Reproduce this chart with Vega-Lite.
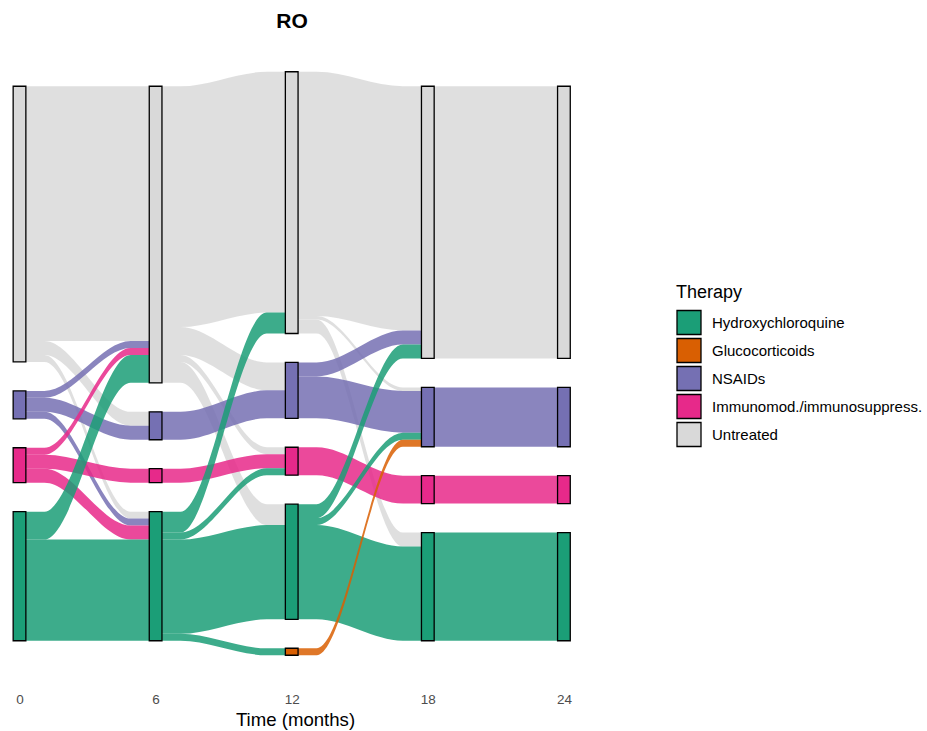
{
  "$schema": "https://vega.github.io/schema/vega-lite/v6.json",
  "width": 590,
  "height": 640,
  "autosize": {"type": "none"},
  "padding": {"left": 0, "top": 43.5, "right": 337, "bottom": 47.5},
  "background": "white",
  "config": {"font": "Liberation Sans", "view": {"stroke": null}},
  "title": {"text": "RO", "fontSize": 21, "fontWeight": "bold", "anchor": "middle", "frame": "group", "baseline": "alphabetic", "offset": 16, "dx": -3, "dy": 21, "color": "black"},
  "data": {
    "values": [
      {"t": 0, "from": "Untreated", "to": "Untreated", "n": 73},
      {"t": 0, "from": "Untreated", "to": "NSAIDs", "n": 4},
      {"t": 0, "from": "Untreated", "to": "Hydroxychloroquine", "n": 2},
      {"t": 0, "from": "NSAIDs", "to": "Untreated", "n": 2},
      {"t": 0, "from": "NSAIDs", "to": "NSAIDs", "n": 4},
      {"t": 0, "from": "NSAIDs", "to": "Hydroxychloroquine", "n": 2},
      {"t": 0, "from": "Immunomod./immunosuppress.", "to": "Untreated", "n": 2},
      {"t": 0, "from": "Immunomod./immunosuppress.", "to": "Immunomod./immunosuppress.", "n": 4},
      {"t": 0, "from": "Immunomod./immunosuppress.", "to": "Hydroxychloroquine", "n": 4},
      {"t": 0, "from": "Hydroxychloroquine", "to": "Untreated", "n": 8},
      {"t": 0, "from": "Hydroxychloroquine", "to": "Hydroxychloroquine", "n": 29},
      {"t": 6, "from": "Untreated", "to": "Untreated", "n": 69},
      {"t": 6, "from": "Untreated", "to": "NSAIDs", "n": 8},
      {"t": 6, "from": "Untreated", "to": "Immunomod./immunosuppress.", "n": 2},
      {"t": 6, "from": "Untreated", "to": "Hydroxychloroquine", "n": 6},
      {"t": 6, "from": "NSAIDs", "to": "NSAIDs", "n": 8},
      {"t": 6, "from": "Immunomod./immunosuppress.", "to": "Immunomod./immunosuppress.", "n": 4},
      {"t": 6, "from": "Hydroxychloroquine", "to": "Untreated", "n": 6},
      {"t": 6, "from": "Hydroxychloroquine", "to": "Immunomod./immunosuppress.", "n": 2},
      {"t": 6, "from": "Hydroxychloroquine", "to": "Hydroxychloroquine", "n": 27},
      {"t": 6, "from": "Hydroxychloroquine", "to": "Glucocorticoids", "n": 2},
      {"t": 12, "from": "Untreated", "to": "Untreated", "n": 70},
      {"t": 12, "from": "Untreated", "to": "NSAIDs", "n": 1},
      {"t": 12, "from": "Untreated", "to": "Hydroxychloroquine", "n": 4},
      {"t": 12, "from": "NSAIDs", "to": "Untreated", "n": 4},
      {"t": 12, "from": "NSAIDs", "to": "NSAIDs", "n": 12},
      {"t": 12, "from": "Immunomod./immunosuppress.", "to": "Immunomod./immunosuppress.", "n": 8},
      {"t": 12, "from": "Hydroxychloroquine", "to": "Untreated", "n": 4},
      {"t": 12, "from": "Hydroxychloroquine", "to": "NSAIDs", "n": 2},
      {"t": 12, "from": "Hydroxychloroquine", "to": "Hydroxychloroquine", "n": 27},
      {"t": 12, "from": "Glucocorticoids", "to": "NSAIDs", "n": 2},
      {"t": 18, "from": "Untreated", "to": "Untreated", "n": 78},
      {"t": 18, "from": "NSAIDs", "to": "NSAIDs", "n": 17},
      {"t": 18, "from": "Immunomod./immunosuppress.", "to": "Immunomod./immunosuppress.", "n": 8},
      {"t": 18, "from": "Hydroxychloroquine", "to": "Hydroxychloroquine", "n": 31}
    ]
  },
  "transform": [
    {"calculate": "indexof(['Glucocorticoids','Hydroxychloroquine','Immunomod./immunosuppress.','NSAIDs','Untreated'], datum.from)", "as": "fr"},
    {"calculate": "indexof(['Glucocorticoids','Hydroxychloroquine','Immunomod./immunosuppress.','NSAIDs','Untreated'], datum.to)", "as": "tr"},
    {"window": [{"op": "sum", "field": "n", "as": "css"}], "groupby": ["t"], "sort": [{"field": "fr", "order": "ascending"}, {"field": "tr", "order": "ascending"}], "frame": [null, 0]},
    {"window": [{"op": "dense_rank", "as": "drs"}], "groupby": ["t"], "sort": [{"field": "fr", "order": "ascending"}]},
    {"window": [{"op": "sum", "field": "n", "as": "csd"}], "groupby": ["t"], "sort": [{"field": "tr", "order": "ascending"}, {"field": "fr", "order": "ascending"}], "frame": [null, 0]},
    {"window": [{"op": "dense_rank", "as": "drd"}], "groupby": ["t"], "sort": [{"field": "tr", "order": "ascending"}]},
    {"joinaggregate": [{"op": "sum", "field": "n", "as": "tot"}, {"op": "max", "field": "drs", "as": "ns"}, {"op": "max", "field": "drd", "as": "nd"}], "groupby": ["t"]},
    {"calculate": "datum.css - datum.n + 8.3 * (datum.drs - 1) - (datum.tot + 8.3 * (datum.ns - 1)) / 2", "as": "ys0"},
    {"calculate": "datum.ys0 + datum.n", "as": "ys1"},
    {"calculate": "datum.csd - datum.n + 8.3 * (datum.drd - 1) - (datum.tot + 8.3 * (datum.nd - 1)) / 2", "as": "yd0"},
    {"calculate": "datum.yd0 + datum.n", "as": "yd1"},
    {"calculate": "datum.t + '|' + datum.from + '|' + datum.to", "as": "id"}
  ],
  "layer": [
    {
      "transform": [
        {"fold": ["ys0", "ys1", "yd0", "yd1"], "as": ["k", "v"]},
        {"calculate": "datum.k === 'ys0' ? datum.t : datum.k === 'ys1' ? datum.t + 1.1 : datum.k === 'yd0' ? datum.t + 4.9 : datum.t + 6", "as": "px"},
        {"calculate": "(datum.k === 'ys0' || datum.k === 'ys1') ? datum.ys0 : datum.yd0", "as": "lo"},
        {"calculate": "(datum.k === 'ys0' || datum.k === 'ys1') ? datum.ys1 : datum.yd1", "as": "hi"}
      ],
      "mark": {"type": "area", "interpolate": "monotone", "opacity": 0.85, "strokeWidth": 0},
      "encoding": {
        "x": {
          "field": "px", "type": "quantitative",
          "scale": {"domain": [-0.86, 25.15], "nice": false, "zero": false},
          "axis": {"values": [0, 6, 12, 18, 24], "title": "Time (months)", "grid": false, "domain": false, "ticks": false, "tickSize": 0, "labelPadding": 9, "labelFontSize": 13.5, "labelColor": "#4D4D4D", "labelFlush": false, "titleFontSize": 18.6, "titleFontWeight": "normal", "titleColor": "black", "titlePadding": 4}
        },
        "y": {"field": "lo", "type": "quantitative", "stack": null, "scale": {"domain": [-91.7, 91.7], "nice": false, "zero": false}, "axis": null},
        "y2": {"field": "hi"},
        "color": {
          "field": "from", "type": "nominal", "title": "Therapy",
          "scale": {
            "domain": ["Hydroxychloroquine", "Glucocorticoids", "NSAIDs", "Immunomod./immunosuppress.", "Untreated"],
            "range": ["#1B9E77", "#D95F02", "#7570B3", "#E7298A", "#D9D9D9"]
          },
          "legend": {
            "orient": "none", "legendX": 676, "legendY": 240,
            "symbolType": "square", "symbolSize": 576, "symbolStrokeColor": "black", "symbolStrokeWidth": 1.3, "symbolOpacity": 1,
            "labelFontSize": 15, "labelColor": "black", "labelLimit": 400, "labelOffset": 10,
            "titleFontSize": 18, "titleFontWeight": "normal", "titleColor": "black", "titlePadding": 8, "rowPadding": -4
          }
        },
        "detail": {"field": "id", "type": "nominal"}
      }
    },
    {
      "transform": [
        {"calculate": "datum.t + 6", "as": "t6"},
        {"fold": ["t", "t6"], "as": ["side", "time"]},
        {"calculate": "datum.side === 't' ? datum.from : datum.to", "as": "state"},
        {"calculate": "datum.side === 't' ? datum.ys0 : datum.yd0", "as": "a"},
        {"calculate": "datum.side === 't' ? datum.ys1 : datum.yd1", "as": "b"},
        {"aggregate": [{"op": "min", "field": "a", "as": "y0"}, {"op": "max", "field": "b", "as": "y1"}], "groupby": ["time", "state"]},
        {"calculate": "datum.time - 0.28", "as": "xl"},
        {"calculate": "datum.time + 0.28", "as": "xr"}
      ],
      "mark": {"type": "rect", "stroke": "black", "strokeWidth": 1.3},
      "encoding": {
        "x": {"field": "xl", "type": "quantitative", "title": "Time (months)"},
        "x2": {"field": "xr"},
        "y": {"field": "y0", "type": "quantitative"},
        "y2": {"field": "y1"},
        "color": {"field": "state", "type": "nominal", "title": "Therapy"}
      }
    }
  ]
}
